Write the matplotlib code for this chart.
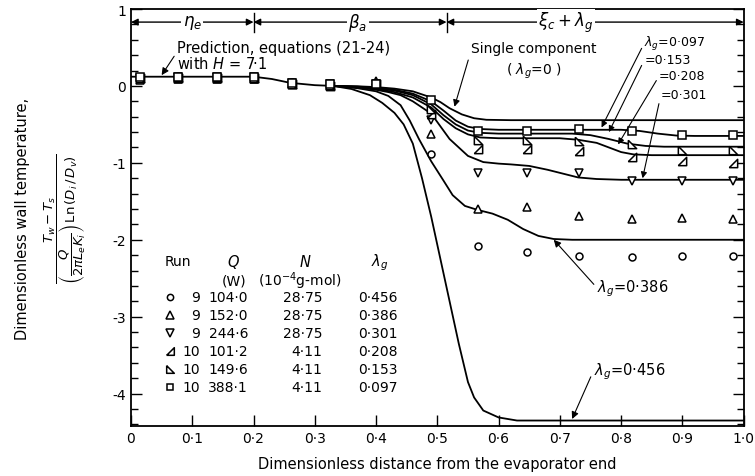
#import libraries
import matplotlib
matplotlib.use("Agg")
import matplotlib.pyplot as plt
from matplotlib.ticker import MultipleLocator

plt.rcParams['font.family'] = ['DejaVu Sans']
plt.rcParams['mathtext.fontset'] = 'dejavusans'

#measured wall temperatures, runs 9 and 10
x_pts = [0.015, 0.077, 0.14, 0.2, 0.263, 0.325, 0.40, 0.49, 0.566, 0.646, 0.732, 0.817, 0.90, 0.982]
y_456 = [0.12, 0.13, 0.12, 0.12, 0.05, 0.02, 0.04, -0.88, -2.08, -2.16, -2.21, -2.22, -2.21, -2.21]
y_386 = [0.08, 0.09, 0.09, 0.09, 0.02, 0.0, 0.06, -0.63, -1.6, -1.58, -1.69, -1.73, -1.72, -1.73]
y_301 = [0.1, 0.12, 0.12, 0.11, 0.04, 0.02, 0.02, -0.44, -1.13, -1.13, -1.13, -1.23, -1.23, -1.23]
y_208 = [0.1, 0.1, 0.1, 0.1, 0.03, 0.0, 0.03, -0.37, -0.82, -0.82, -0.85, -0.92, -0.97, -1.0]
y_153 = [0.1, 0.11, 0.11, 0.1, 0.03, 0.01, 0.03, -0.3, -0.7, -0.7, -0.71, -0.75, -0.83, -0.83]
y_097 = [0.12, 0.12, 0.12, 0.12, 0.04, 0.02, 0.02, -0.18, -0.58, -0.58, -0.56, -0.58, -0.64, -0.64]

#prediction curves (common part then one branch per lambda_g)
x_common = [0.0, 0.05, 0.10, 0.15, 0.20, 0.23, 0.26, 0.30, 0.33]
y_common = [0.12, 0.12, 0.12, 0.12, 0.12, 0.09, 0.04, 0.01, 0.0]

x_c0 = [0.33, 0.37, 0.40, 0.43, 0.46, 0.49, 0.505, 0.52, 0.54, 0.56, 0.58, 0.62, 1.0]
y_c0 = [0.0, -0.005, -0.015, -0.035, -0.07, -0.15, -0.21, -0.29, -0.37, -0.42, -0.44, -0.445, -0.445]
x_c097 = [0.33, 0.37, 0.40, 0.43, 0.46, 0.49, 0.51, 0.53, 0.55, 0.57, 0.60, 0.80, 0.83, 0.86, 0.89, 0.92, 1.0]
y_c097 = [0.0, -0.01, -0.02, -0.05, -0.1, -0.2, -0.32, -0.45, -0.53, -0.56, -0.57, -0.57, -0.585, -0.62, -0.645, -0.65, -0.65]
x_c153 = [0.33, 0.37, 0.40, 0.43, 0.46, 0.49, 0.51, 0.53, 0.55, 0.57, 0.60, 0.72, 0.75, 0.78, 0.81, 0.84, 0.87, 1.0]
y_c153 = [0.0, -0.01, -0.03, -0.06, -0.12, -0.24, -0.38, -0.5, -0.58, -0.61, -0.62, -0.62, -0.64, -0.69, -0.75, -0.78, -0.79, -0.79]
x_c208 = [0.33, 0.37, 0.40, 0.43, 0.46, 0.49, 0.51, 0.53, 0.55, 0.57, 0.60, 0.70, 0.73, 0.76, 0.78, 0.80, 0.82, 0.85, 1.0]
y_c208 = [0.0, -0.015, -0.04, -0.08, -0.15, -0.28, -0.43, -0.55, -0.63, -0.67, -0.68, -0.68, -0.7, -0.74, -0.8, -0.86, -0.89, -0.9, -0.9]
x_c301 = [0.33, 0.37, 0.40, 0.42, 0.44, 0.46, 0.49, 0.52, 0.55, 0.575, 0.60, 0.62, 0.65, 0.68, 0.70, 0.73, 0.76, 0.80, 1.0]
y_c301 = [0.0, -0.02, -0.05, -0.08, -0.12, -0.2, -0.36, -0.69, -0.91, -0.99, -1.01, -1.02, -1.04, -1.09, -1.13, -1.19, -1.21, -1.22, -1.22]
x_c386 = [0.33, 0.37, 0.40, 0.42, 0.44, 0.455, 0.47, 0.49, 0.51, 0.525, 0.545, 0.565, 0.59, 0.615, 0.64, 0.665, 0.69, 0.72, 1.0]
y_c386 = [0.0, -0.03, -0.07, -0.13, -0.25, -0.45, -0.69, -0.98, -1.23, -1.42, -1.56, -1.61, -1.66, -1.74, -1.86, -1.95, -1.99, -2.0, -2.0]
x_c456 = [0.33, 0.36, 0.39, 0.41, 0.43, 0.445, 0.46, 0.475, 0.49, 0.505, 0.52, 0.535, 0.55, 0.56, 0.575, 0.60, 0.63, 1.0]
y_c456 = [0.0, -0.04, -0.12, -0.22, -0.35, -0.5, -0.75, -1.2, -1.7, -2.25, -2.8, -3.35, -3.85, -4.05, -4.22, -4.31, -4.35, -4.35]

#legend table
runs = ['9', '9', '9', '10', '10', '10']
q_watts = ['104·0', '152·0', '244·6', '101·2', '149·6', '388·1']
n_mol = ['28·75', '28·75', '28·75', '4·11', '4·11', '4·11']
lam_g = ['0·456', '0·386', '0·301', '0·208', '0·153', '0·097']

x_ticks = [0, 0.1, 0.2, 0.3, 0.4, 0.5, 0.6, 0.7, 0.8, 0.9, 1.0]
x_labels = ['0', '0·1', '0·2', '0·3', '0·4', '0·5', '0·6', '0·7', '0·8', '0·9', '1·0']
y_ticks = [1, 0, -1, -2, -3, -4]
y_labels = ['1', '0', '-1', '-2', '-3', '-4']

#open right-angle triangles
tri_a = [(-1, -1), (1, -1), (1, 1), (-1, -1)]
tri_b = [(-1, 1), (-1, -1), (1, -1), (-1, 1)]
marks = ['o', '^', 'v', tri_a, tri_b, 's']
sizes = [5, 6, 6, 6, 6, 5.5]
series = [y_456, y_386, y_301, y_208, y_153, y_097]

fig = plt.figure(figsize=(7.55, 4.77), dpi=100)
ax = fig.add_axes([0.1735, 0.105, 0.8115, 0.874])

#curves
ax.plot(x_common, y_common, color='k', lw=1.3)
for xc, yc in [(x_c0, y_c0), (x_c097, y_c097), (x_c153, y_c153), (x_c208, y_c208),
               (x_c301, y_c301), (x_c386, y_c386), (x_c456, y_c456)]:
    ax.plot(xc, yc, color='k', lw=1.3)

#data points
for ys, m, s in zip(series, marks, sizes):
    ax.plot(x_pts, ys, linestyle='none', marker=m, ms=s, mfc='white', mec='k', mew=1.1, zorder=5, clip_on=False)

ax.set_xlim(0, 1.0)
ax.set_ylim(-4.42, 1.0)
ax.set_xticks(x_ticks)
ax.set_xticklabels(x_labels)
ax.set_yticks(y_ticks)
ax.set_yticklabels(y_labels)
ax.yaxis.set_minor_locator(MultipleLocator(0.2))
ax.tick_params(which='both', direction='in', right=True, top=False, labelsize=10, width=1)
ax.tick_params(which='major', length=8)
ax.tick_params(which='minor', length=5)
for sp in ax.spines.values():
    sp.set_linewidth(1.3)

ax.set_xlabel('Dimensionless distance from the evaporator end', fontsize=10.5, labelpad=8)
fig.text(0.030, 0.54, 'Dimensionless wall temperature,', rotation=90, ha='center', va='center', fontsize=10.5)
fig.text(0.086, 0.54, r'$\dfrac{T_w - T_s}{\left(\dfrac{Q}{2\pi L_e K_i}\right)\,\mathrm{Ln}\,(D_i\,/\,D_v)}$',
         rotation=90, ha='center', va='center', fontsize=9.5)

#zone arrows along the top
y_top = 0.83
for a, b, lab, xc in [(0, 0.2, r'$\eta_e$', 0.1), (0.2, 0.515, r'$\beta_a$', 0.37), (0.515, 1.0, r'$\xi_c + \lambda_g$', 0.71)]:
    ax.annotate('', xy=(a, y_top), xytext=(b, y_top),
                arrowprops=dict(arrowstyle='<|-|>', color='k', lw=1, shrinkA=0, shrinkB=0, mutation_scale=10))
    ax.text(xc, y_top, lab, ha='center', va='center', fontsize=12, bbox=dict(fc='white', ec='none', pad=1))
for xb in [0.2, 0.515]:
    ax.plot([xb, xb], [0.7, 0.95], color='k', lw=1)

#annotations
ax.annotate('Prediction, equations (21-24)\nwith $H$ = 7·1', xy=(0.05, 0.14), xytext=(0.075, 0.40),
            fontsize=10.5, va='center', ha='left', linespacing=1.0,
            arrowprops=dict(arrowstyle='-|>', color='k', lw=0.8, shrinkA=0, shrinkB=0, relpos=(0, 0.6)))
ax.annotate('Single component\n( $\\lambda_g$=0 )', xy=(0.528, -0.27), xytext=(0.555, 0.33),
            fontsize=10, va='center', ha='left', multialignment='center', linespacing=1.5,
            arrowprops=dict(arrowstyle='-|>', color='k', lw=0.8, shrinkA=0, shrinkB=0, relpos=(0, 0.75)))
for lab, tx, ty, px, py in [(r'$\lambda_g$=0·097', 0.838, 0.56, 0.768, -0.54),
                            ('=0·153', 0.838, 0.34, 0.78, -0.6),
                            ('=0·208', 0.862, 0.13, 0.795, -0.76),
                            ('=0·301', 0.865, -0.11, 0.835, -1.2)]:
    ax.annotate(lab, xy=(px, py), xytext=(tx, ty), fontsize=9, va='center', ha='left',
                arrowprops=dict(arrowstyle='-|>', color='k', lw=0.8, shrinkA=0, shrinkB=0, relpos=(0, 0.5)))
ax.annotate(r'$\lambda_g$=0·386', xy=(0.69, -2.0), xytext=(0.76, -2.62), fontsize=10.5, va='center', ha='left',
            arrowprops=dict(arrowstyle='-|>', color='k', lw=0.8, shrinkA=0, shrinkB=0, relpos=(0, 0.5)))
ax.annotate(r'$\lambda_g$=0·456', xy=(0.72, -4.33), xytext=(0.755, -3.7), fontsize=10.5, va='center', ha='left',
            arrowprops=dict(arrowstyle='-|>', color='k', lw=0.8, shrinkA=0, shrinkB=0, relpos=(0, 0.5)))

#legend table
ax.text(0.077, -2.28, 'Run', ha='center', va='center', fontsize=10)
ax.text(0.168, -2.28, '$Q$', ha='center', va='center', fontsize=10.5)
ax.text(0.285, -2.28, '$N$', ha='center', va='center', fontsize=10.5)
ax.text(0.406, -2.28, r'$\lambda_g$', ha='center', va='center', fontsize=10.5)
ax.text(0.168, -2.53, '(W)', ha='center', va='center', fontsize=10)
ax.text(0.276, -2.53, r'(10$^{-4}$g-mol)', ha='center', va='center', fontsize=10)
for i in range(len(runs)):
    yr = -2.75 - 0.234 * i
    ax.plot([0.064], [yr], linestyle='none', marker=marks[i], ms=sizes[i] - 0.5, mfc='white', mec='k', mew=1.1)
    ax.text(0.112, yr, runs[i], ha='right', va='center', fontsize=10)
    ax.text(0.191, yr, q_watts[i], ha='right', va='center', fontsize=10)
    ax.text(0.312, yr, n_mol[i], ha='right', va='center', fontsize=10)
    ax.text(0.436, yr, lam_g[i], ha='right', va='center', fontsize=10)

plt.savefig('out.png', dpi=100)
